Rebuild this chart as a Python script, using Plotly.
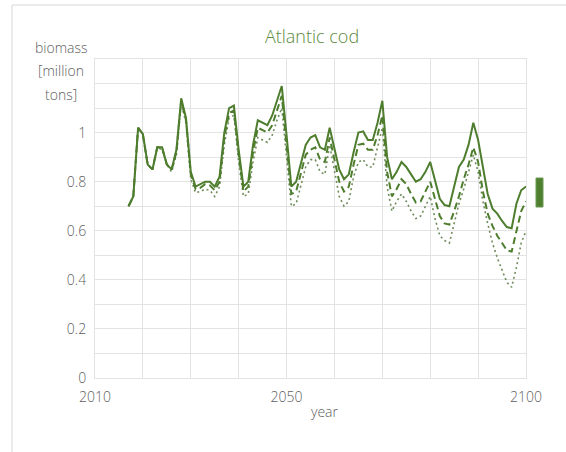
import plotly.graph_objects as go

# Annual biomass projections for Atlantic cod (million tons), 2017-2100
years = list(range(2017, 2101))

biomass_solid = [
    0.70, 0.74, 1.02, 0.995, 0.87, 0.85, 0.94, 0.94, 0.87, 0.85,   # 2017-2026
    0.93, 1.14, 1.06, 0.84, 0.78, 0.79, 0.80, 0.80, 0.78, 0.82,    # 2027-2036
    1.00, 1.10, 1.11, 0.93, 0.78, 0.80, 0.95, 1.05, 1.04, 1.03,    # 2037-2046
    1.07, 1.13, 1.19, 0.99, 0.78, 0.80, 0.88, 0.95, 0.98, 0.99,    # 2047-2056
    0.94, 0.93, 1.02, 0.93, 0.85, 0.81, 0.83, 0.92, 1.00, 1.005,   # 2057-2066
    0.97, 0.97, 1.04, 1.13, 0.90, 0.81, 0.84, 0.88, 0.86, 0.83,    # 2067-2076
    0.80, 0.81, 0.84, 0.88, 0.81, 0.73, 0.705, 0.70, 0.78, 0.86,   # 2077-2086
    0.89, 0.95, 1.04, 0.97, 0.86, 0.75, 0.69, 0.67, 0.64, 0.615,   # 2087-2096
    0.61, 0.71, 0.765, 0.78,                                       # 2097-2100
]

biomass_dashed = [
    0.70, 0.74, 1.02, 0.99, 0.87, 0.85, 0.94, 0.94, 0.87, 0.85,
    0.92, 1.13, 1.05, 0.83, 0.77, 0.775, 0.79, 0.785, 0.765, 0.80,
    0.98, 1.08, 1.09, 0.91, 0.76, 0.78, 0.92, 1.02, 1.01, 1.00,
    1.03, 1.09, 1.15, 0.95, 0.75, 0.76, 0.84, 0.91, 0.93, 0.94,
    0.89, 0.88, 0.98, 0.89, 0.80, 0.76, 0.78, 0.87, 0.95, 0.955,
    0.93, 0.93, 0.99, 1.07, 0.84, 0.74, 0.77, 0.81, 0.79, 0.75,
    0.715, 0.72, 0.76, 0.80, 0.73, 0.66, 0.63, 0.625, 0.68, 0.74,
    0.81, 0.87, 0.94, 0.88, 0.76, 0.67, 0.62, 0.58, 0.55, 0.52,
    0.515, 0.60, 0.68, 0.72,
]

biomass_dotted = [
    0.70, 0.74, 1.02, 0.99, 0.87, 0.85, 0.94, 0.93, 0.87, 0.84,
    0.91, 1.12, 1.04, 0.81, 0.755, 0.76, 0.77, 0.765, 0.74, 0.78,
    0.95, 1.06, 1.07, 0.88, 0.74, 0.75, 0.88, 0.98, 0.97, 0.96,
    0.99, 1.05, 1.10, 0.90, 0.70, 0.71, 0.79, 0.86, 0.89, 0.89,
    0.84, 0.83, 0.95, 0.84, 0.74, 0.70, 0.72, 0.82, 0.88, 0.89,
    0.86, 0.86, 0.94, 1.02, 0.78, 0.68, 0.72, 0.75, 0.72, 0.68,
    0.65, 0.66, 0.70, 0.74, 0.65, 0.58, 0.56, 0.55, 0.63, 0.71,
    0.77, 0.84, 0.91, 0.84, 0.72, 0.63, 0.55, 0.49, 0.44, 0.39,
    0.37, 0.45, 0.55, 0.60,
]

x_tick_vals = list(range(2010, 2101, 10))
x_tick_text = ["2010", "", "", "", "2050", "", "", "", "", "2100"]
y_tick_vals = [round(i * 0.1, 1) for i in range(14)]
y_tick_text = ["0", "", "0.2", "", "0.4", "", "0.6", "", "0.8", "", "1", "", "", ""]

GREEN = "#4e7d2e"
GREEN_LIGHT = "#6f8c5c"
GRID = "#e3e3e3"
TEXT = "#606060"
FONT = "Open Sans"

W, H = 566, 452
ML, MR, MT, MB = 95, 40, 59, 74
PW, PH = W - ML - MR, H - MT - MB


def px_x(px):
    return (px - ML) / PW


def px_y(py):
    return (H - MB - py) / PH


def label_font(size=14, color=TEXT):
    return dict(family=FONT, size=size, color=color, weight=300)


fig = go.Figure()
fig.add_trace(go.Scatter(x=years, y=biomass_dotted, mode="lines",
                         line=dict(color=GREEN_LIGHT, width=1.6, dash="2px,3px")))
fig.add_trace(go.Scatter(x=years, y=biomass_dashed, mode="lines",
                         line=dict(color=GREEN, width=2, dash="7px,4px")))
fig.add_trace(go.Scatter(x=years, y=biomass_solid, mode="lines",
                         line=dict(color=GREEN, width=2)))

fig.update_layout(
    width=W, height=H, autosize=False,
    margin=dict(l=ML, r=MR, t=MT, b=MB),
    paper_bgcolor="white", plot_bgcolor="white",
    showlegend=False,
    font=label_font(),
    title=dict(text="Atlantic cod", x=312 / W, xanchor="center",
               y=1 - 37 / H, yanchor="middle",
               font=label_font(18, "#5b8a3c")),
    xaxis=dict(range=[2010, 2100], tickvals=x_tick_vals, ticktext=x_tick_text,
               showgrid=True, gridcolor=GRID, gridwidth=1,
               showline=True, linecolor=GRID, mirror=True,
               zeroline=False, ticks="", ticklabelstandoff=6,
               tickfont=label_font()),
    yaxis=dict(range=[0, 1.3], tickvals=y_tick_vals, ticktext=y_tick_text,
               showgrid=True, gridcolor=GRID, gridwidth=1,
               showline=True, linecolor=GRID, mirror=True,
               zeroline=False, ticks="", ticklabelstandoff=5,
               tickfont=label_font()),
)

# Axis titles
for text, yc in (("biomass", 47), ("[million", 71), ("tons]", 94)):
    fig.add_annotation(text=text, xref="paper", yref="paper",
                       x=px_x(61), y=px_y(yc), xanchor="center", yanchor="middle",
                       showarrow=False, font=label_font())
fig.add_annotation(text="year", xref="paper", yref="paper",
                   x=px_x(325), y=px_y(411), xanchor="center", yanchor="middle",
                   showarrow=False, font=label_font())

# Chart frame edges and legend swatch
fig.add_shape(type="line", xref="paper", yref="paper",
              x0=px_x(12), x1=px_x(12), y0=px_y(5), y1=px_y(452),
              line=dict(color="#d6d6d6", width=1))
fig.add_shape(type="line", xref="paper", yref="paper",
              x0=px_x(12), x1=px_x(566), y0=px_y(5), y1=px_y(5),
              line=dict(color="#d6d6d6", width=1))
fig.add_shape(type="rect", xref="paper", yref="paper",
              x0=px_x(536), x1=px_x(543), y0=px_y(207), y1=px_y(178),
              fillcolor="#4f8030", line=dict(color="#6d9a52", width=1))

fig.write_html("out.html")
